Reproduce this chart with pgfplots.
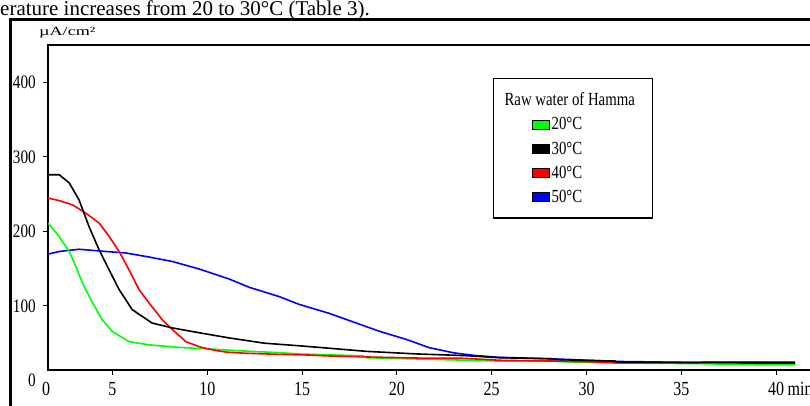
\documentclass[border=0pt]{standalone}
\usepackage{pgfplots}
\pgfplotsset{compat=1.18}
\usepackage{pgfplotstable}
\usepackage{fontspec}
\setmainfont{Liberation Serif}
\newfontfamily\condfont[FakeStretch=0.8]{Liberation Serif}

\definecolor{cgreen}{RGB}{0,255,0}
\definecolor{cred}{RGB}{255,0,0}
\definecolor{cblue}{RGB}{0,0,255}

% current density (uA/cm2) against time (min)
\pgfplotstableread{
t v
1.61 211
2.19 193
2.72 173
3.07 153
3.42 130.5
3.95 104
4.47 81
5.0 65.5
5.88 52
6.94 47.7
8.52 44.3
10.3 42
11.5 40
13.8 37.3
14.85 35.5
18.2 33
18.4 30.5
25.4 26
28.3 25.5
31.2 23.5
36 22.5
39.1 21
41 21
}\greendata

\pgfplotstableread{
t v
1.61 276
2.19 276
2.72 265
3.24 242
3.77 206
4.30 175
4.83 148
5.35 122
6.04 95
7.09 77
8.15 70.5
9.57 64
11.16 57
13.0 50
14.85 46.5
16.43 43.2
18.4 39
21.0 35.6
23.6 33.3
25.4 30.5
28.2 29
28.3 28
31.5 26
31.6 24.5
36 24
41 23.5
}\blackdata

\pgfplotstableread{
t v
1.61 244.6
2.19 241.3
2.89 235.6
3.6 224.4
4.3 211
4.83 193
5.35 173
5.88 148
6.41 121.5
6.94 103.6
7.64 81
8.17 68
8.87 52
9.57 45.4
9.75 44
10.5 40
11.0 38
12.0 36.5
13.8 35
15.5 34
16.2 33
18.4 31.5
21.2 30
23.4 29.8
25.5 27
28.3 26
31.1 24.5
31.6 23.5
36.0 23.8
36.1 25
41.0 25
}\reddata

\pgfplotstableread{
t v
1.61 169.5
2.19 173
3.24 176
4.65 173
5.71 171
6.94 165.5
8.17 159.5
9.57 149.5
11.16 136
12.21 125
13.79 112.5
14.85 102
16.43 90
19.07 66
20.5 55
21.7 44
23.0 37
24.1 33.5
25.4 31
28.2 29
31.5 25.5
36 24
41 23
}\bluedata

\begin{document}
\begin{tikzpicture}
\useasboundingbox (0pt,0pt) rectangle (810pt,405pt);
\clip (0pt,0pt) rectangle (810pt,405pt);
\fill[white] (0pt,0pt) rectangle (810pt,405pt);
\node[anchor=base west, inner sep=0pt, font=\fontsize{21}{24}\selectfont] at (0pt,389.5pt) {erature increases from 20 to 30°C (Table 3).};
\draw[line width=3pt] (10.5pt,-5pt) -- (10.5pt,385pt) -- (830pt,385pt);
\node[inner sep=0pt, anchor=west] at (39pt,372pt) {\scalebox{1.45}[1]{\fontsize{12.5}{14}\selectfont µA/cm²}};
\begin{axis}[
    scale only axis,
    width=785pt, height=325pt,
    at={(48pt,35pt)}, anchor=south west,
    xmin=1.6, xmax=43, ymin=14, ymax=450,
    axis line style={line width=1.2pt},
    xtick={5,10,...,40},
    xticklabels={5,10,15,20,25,30,35,40\rlap{\hspace{3.5pt}min}},
    ytick={100,200,300,400},
    yticklabels={100,200,300,400},
    xtick pos=bottom, ytick pos=left,
    tick align=outside, major tick length=5pt,
    tick style={line width=1pt, black},
    xticklabel style={font=\condfont\fontsize{20}{20}\selectfont, inner sep=0pt, yshift=-7pt},
    yticklabel style={font=\condfont\fontsize{19}{19}\selectfont, inner sep=0pt, xshift=-7pt},
    extra x ticks={1.6}, extra x tick labels={0},
    extra x tick style={tick style={draw=none}, xticklabel style={xshift=-2pt}},
    extra y ticks={14}, extra y tick labels={0},
    extra y tick style={tick style={draw=none}, yticklabel style={yshift=-10pt}},
    legend style={at={(0.5669,0.8985)}, anchor=north west,
        draw=black, line width=1.2pt, fill=white,
        inner xsep=10pt, inner ysep=14pt, row sep=10.4pt, column sep=2pt,
        font=\condfont\fontsize{18.5}{20}\selectfont,
        nodes={inner sep=0pt}},
    legend cell align=left,
]
\addplot[cblue, line width=1.6pt, forget plot] table {\bluedata};
\addplot[cgreen, line width=1.6pt, forget plot] table {\greendata};
\addplot[cred, line width=1.6pt, forget plot] table {\reddata};
\addplot[black, line width=1.6pt, forget plot] table {\blackdata};

\addlegendimage{empty legend}
\addlegendentry{\kern-47pt Raw water of Hamma\rule{8pt}{0pt}}
\addlegendimage{legend image code/.code={\path (0pt,0pt); \draw[fill=cgreen, draw=black, line width=0.8pt] (28pt,-4.5pt) rectangle (45pt,4.5pt);}}
\addlegendentry{20°C}
\addlegendimage{legend image code/.code={\path (0pt,0pt); \draw[fill=black, draw=black, line width=0.8pt] (28pt,-4.5pt) rectangle (45pt,4.5pt);}}
\addlegendentry{30°C}
\addlegendimage{legend image code/.code={\path (0pt,0pt); \draw[fill=cred, draw=black, line width=0.8pt] (28pt,-4.5pt) rectangle (45pt,4.5pt);}}
\addlegendentry{40°C}
\addlegendimage{legend image code/.code={\path (0pt,0pt); \draw[fill=cblue, draw=black, line width=0.8pt] (28pt,-4.5pt) rectangle (45pt,4.5pt);}}
\addlegendentry{50°C}
\end{axis}
\end{tikzpicture}
\end{document}
